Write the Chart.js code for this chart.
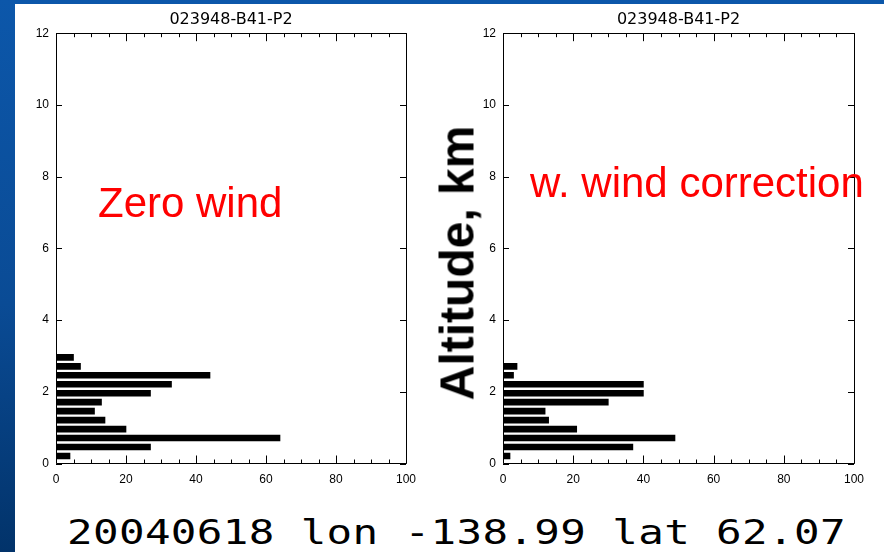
<!DOCTYPE html>
<html>
<head>
<meta charset="utf-8">
<script src="https://cdn.jsdelivr.net/npm/chart.js@4.4.0/dist/chart.umd.min.js"></script>
<style>
  html, body { margin: 0; padding: 0; }
  body {
    width: 884px; height: 552px; position: relative; overflow: hidden;
    background: linear-gradient(to bottom, #0c57aa 0%, #0a4b95 55%, #02336a 100%);
  }
  #panel { position: absolute; left: 15px; top: 4px; right: 0; bottom: 0; background: #fff; }
  .box { position: absolute; top: 0; height: 500px; }
  #boxA { left: 0; width: 440px; }
  #boxB { left: 447px; width: 437px; }
  .red {
    position: absolute; color: #ff0000; white-space: nowrap; line-height: 1;
    font: 42px 'Liberation Sans', Arial, sans-serif;
  }
  #altLabel {
    position: absolute; left: 457px; top: 263px; white-space: nowrap; line-height: 1;
    font: bold 48px 'Liberation Sans', Arial, sans-serif; color: #000;
    transform: translate(-50%, -50%) rotate(-90deg);
  }
  #footer {
    position: absolute; left: 67px; top: 512px; white-space: nowrap; line-height: 1;
    font: 34px 'DejaVu Sans Mono', monospace; letter-spacing: 0.3px; color: #000;
    transform-origin: 0 0; transform: scaleX(1.25);
  }
</style>
</head>
<body>
<div id="panel"></div>
<div class="box" id="boxA"><canvas id="chartA"></canvas></div>
<div class="box" id="boxB"><canvas id="chartB"></canvas></div>
<div class="red" style="left:98px; top:179px;">Zero wind</div>
<div class="red" style="left:530px; top:159px;">w. wind correction</div>
<div id="altLabel">Altitude, km</div>
<div id="footer">20040618 lon -138.99 lat 62.07</div>

<script>
// altitude of each bar (km)
const altitudes = [0.21, 0.46, 0.71, 0.96, 1.21, 1.46, 1.71, 1.96, 2.21, 2.46, 2.71, 2.96];
// bar lengths, bottom to top
const zeroWindCounts = [4, 27, 64, 20, 14, 11, 13, 27, 33, 44, 7, 5];
const windCorrCounts = [2, 37, 49, 21, 13, 12, 30, 40, 40, 3, 4, 0];

const xTickValues = [0, 20, 40, 60, 80, 100];
const yTickValues = [0, 2, 4, 6, 8, 10, 12];
const chartTitle = '023948-B41-P2';

Chart.defaults.font.family = "'Liberation Sans', Arial, sans-serif";
Chart.defaults.color = '#000';

// IDL style box: frame on all sides, ticks pointing inward
const idlFrame = {
  id: 'idlFrame',
  afterDatasetsDraw(chart) {
    const ctx = chart.ctx;
    const a = chart.chartArea;
    const x = chart.scales.x;
    const y = chart.scales.y;
    ctx.save();
    ctx.strokeStyle = '#000';
    ctx.lineWidth = 1;
    ctx.beginPath();
    ctx.rect(Math.round(a.left) + 0.5, Math.round(a.top) + 0.5,
             Math.round(a.right - a.left), Math.round(a.bottom - a.top));
    for (let v = 0; v <= 100; v += 5) {
      const px = Math.round(x.getPixelForValue(v)) + 0.5;
      const len = v % 20 === 0 ? 8 : 4;
      ctx.moveTo(px, a.bottom); ctx.lineTo(px, a.bottom - len);
      ctx.moveTo(px, a.top); ctx.lineTo(px, a.top + len);
    }
    yTickValues.forEach(v => {
      const py = Math.round(y.getPixelForValue(v)) + 0.5;
      ctx.moveTo(a.left, py); ctx.lineTo(a.left + 6, py);
      ctx.moveTo(a.right, py); ctx.lineTo(a.right - 6, py);
    });
    ctx.stroke();
    ctx.restore();
  }
};

function makeChart(id, counts, padRight) {
  const points = counts.map((c, i) => ({ x: c, y: altitudes[i] }));
  return new Chart(document.getElementById(id), {
    type: 'bar',
    data: {
      datasets: [{
        data: points,
        backgroundColor: '#000',
        borderWidth: 0,
        barThickness: 6
      }]
    },
    options: {
      indexAxis: 'y',
      responsive: true,
      maintainAspectRatio: false,
      animation: false,
      layout: { padding: { left: 0, right: padRight, top: 0, bottom: 0 } },
      plugins: {
        legend: { display: false },
        tooltip: { enabled: false },
        title: {
          display: true,
          text: chartTitle,
          fullSize: false,
          font: { size: 16, weight: 'normal', family: "'DejaVu Sans', sans-serif" },
          padding: { top: 10, bottom: 4 }
        }
      },
      scales: {
        x: {
          type: 'linear',
          min: 0, max: 100,
          offset: false,
          grid: { display: false, drawTicks: false },
          border: { display: false },
          afterBuildTicks: s => { s.ticks = xTickValues.map(v => ({ value: v })); },
          afterFit: s => { s.height = 36.5; },
          ticks: { padding: 9, font: { size: 12 }, maxRotation: 0 }
        },
        y: {
          type: 'linear',
          min: 0, max: 12,
          offset: false,
          grid: { display: false, drawTicks: false, offset: false },
          border: { display: false },
          afterBuildTicks: s => { s.ticks = yTickValues.map(v => ({ value: v })); },
          afterFit: s => { s.width = 56; },
          ticks: { padding: 7, font: { size: 12 } }
        }
      }
    },
    plugins: [idlFrame]
  });
}

makeChart('chartA', zeroWindCounts, 34);
makeChart('chartB', windCorrCounts, 30);
</script>
</body>
</html>
